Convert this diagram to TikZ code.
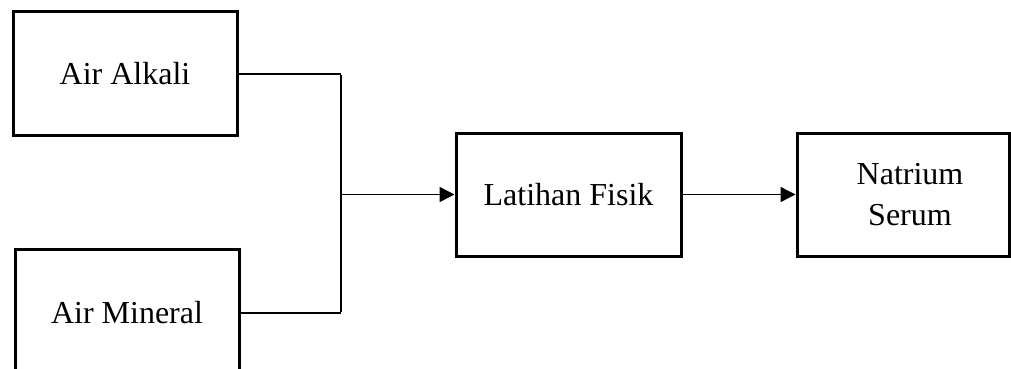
\documentclass[tikz,border=0pt]{standalone}
\usepackage{fontspec}
\setmainfont{Liberation Serif}
\usetikzlibrary{arrows.meta}
\begin{document}
\begin{tikzpicture}[x=1pt,y=-1pt,
  blockbox/.style={draw, line width=3pt, rectangle, inner sep=0pt,
    minimum width=224pt, minimum height=123pt, align=center,
    font=\fontsize{32}{41}\selectfont},
  link/.style={line width=2pt},
  flow/.style={line width=1.4pt, -{Triangle[length=15pt,width=15pt]}}]
  \clip (0,0) rectangle (1011,369);
  \useasboundingbox (0,0) rectangle (1011,369);

  % input boxes
  \node[blockbox] (alkali) at (125,73.5) {Air Alkali};
  \node[blockbox, minimum height=128pt] (mineral) at (127,313) {Air Mineral};

  % process and outcome boxes
  \node[blockbox, minimum width=225pt] (latihan) at (568.5,194.5) {Latihan Fisik};
  \node[blockbox, minimum width=212pt] (natrium) at (903,194.5) {\hspace*{14pt}Natrium\\\hspace*{14pt}Serum};

  % junction of the two inputs
  \coordinate (jtop) at (341,73.5);
  \coordinate (jbot) at (341,313);
  \coordinate (jmid) at (341,194.5);

  \draw[link] (alkali.east) -- (jtop);
  \draw[link] (mineral.east) -- (jbot);
  \draw[link] ([yshift=-1pt]jtop) -- ([yshift=1pt]jbot);
  \draw[flow] (jmid) -- (latihan.west);
  \draw[flow] (latihan.east) -- (natrium.west);
\end{tikzpicture}
\end{document}
